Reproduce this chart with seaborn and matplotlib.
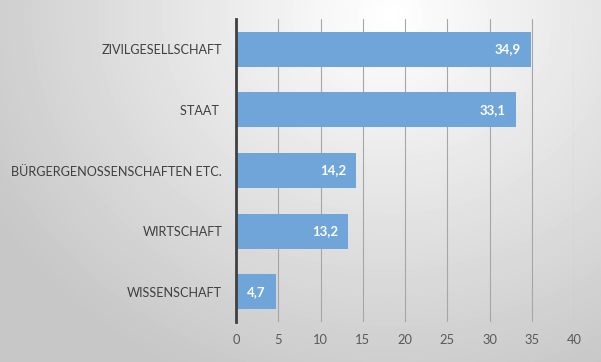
import numpy as np
import pandas as pd
import seaborn as sns
import matplotlib.pyplot as plt

# Daten
kategorien = ["ZIVILGESELLSCHAFT", "STAAT ", "BÜRGERGENOSSENSCHAFTEN ETC.", "WIRTSCHAFT", "WISSENSCHAFT"]
werte = [34.9, 33.1, 14.2, 13.2, 4.7]
xticks = [0, 5, 10, 15, 20, 25, 30, 35, 40]

sns.set_style("white")
plt.rcParams["font.family"] = ["Lato", "DejaVu Sans"]

df = pd.DataFrame({"kategorie": kategorien, "wert": werte})

fig = plt.figure(figsize=(6.01, 3.62), dpi=100)

# radialer Hintergrund
bg = fig.add_axes([0, 0, 1, 1], zorder=-1)
yy, xx = np.mgrid[0:362, 0:601]
d = np.hypot(xx - 390, (yy - 15) * 1.15)
shade = np.clip(1 - 0.00048 * d, 0.78, 1)
bg.imshow(shade, cmap="gray", vmin=0, vmax=1, aspect="auto", interpolation="bilinear")
bg.axis("off")
fig.patch.set_edgecolor("#c8c8c8")
fig.patch.set_linewidth(2)

ax = fig.add_axes([236 / 601, 1 - 322 / 362, (574 - 236) / 601, (322 - 19) / 362])
ax.patch.set_alpha(0)
sns.barplot(data=df, x="wert", y="kategorie", orient="h", color="#6fa5d8",
            width=0.58, linewidth=0, saturation=1, ax=ax, zorder=3)

for i, v in enumerate(werte):
    ax.annotate(f"{v:.1f}".replace(".", ","), (v, i), xytext=(-7, 0),
                textcoords="offset points", ha="right", va="center",
                color="white", fontsize=9.5, fontweight="bold", zorder=4)

ax.set_xlim(0, 40)
ax.set_xticks(xticks)
ax.xaxis.grid(True, color="#a6a6a6", linewidth=0.8, zorder=0)
ax.set_axisbelow(True)
ax.set_xlabel("")
ax.set_ylabel("")
for s in ["top", "right", "bottom"]:
    ax.spines[s].set_visible(False)
ax.spines["left"].set_color("#404040")
ax.spines["left"].set_linewidth(2)
ax.spines["left"].set_zorder(5)
ax.tick_params(axis="x", length=0, pad=9, labelsize=9.3, labelcolor="#595959")
ax.tick_params(axis="y", length=0, pad=10, labelsize=9.1, labelcolor="#404040")

plt.savefig("out.png", dpi=100)
